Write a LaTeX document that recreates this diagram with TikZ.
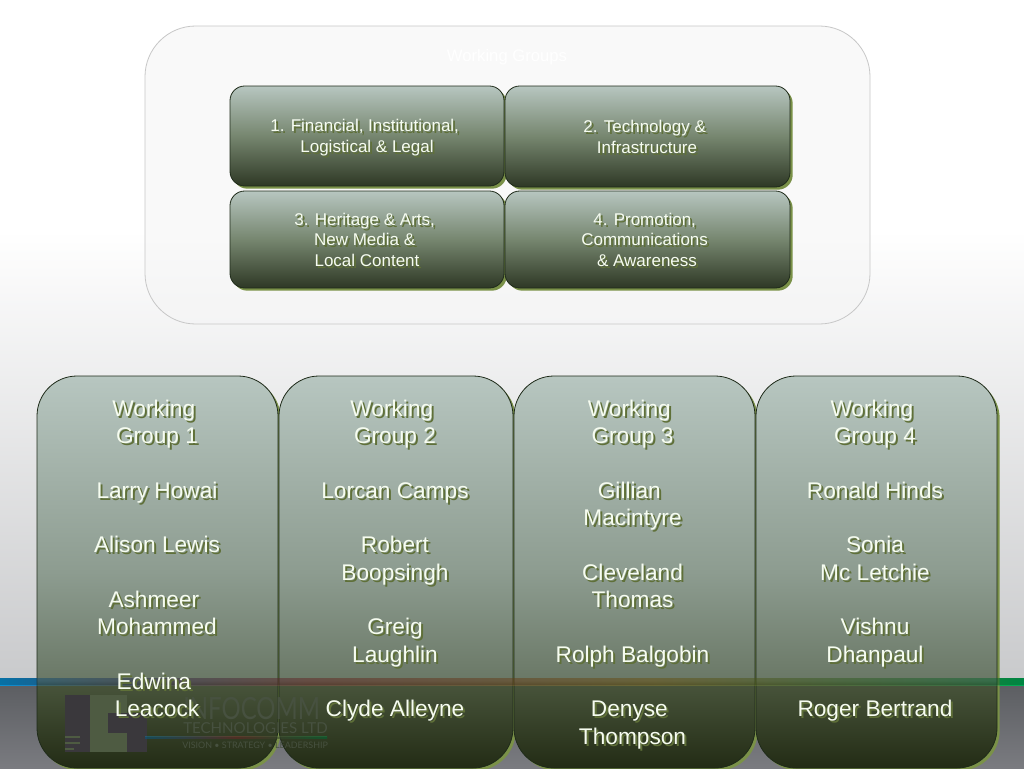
\documentclass[tikz,border=0pt]{standalone}
\usepackage{fontspec}
\setmainfont{Liberation Sans}
\newfontfamily\logofont{Lato}
\usetikzlibrary{shadows}

\definecolor{paneledge}{HTML}{1F2B1A}
\definecolor{panelback}{HTML}{7A9148}
\definecolor{textback}{HTML}{5F7038}
\definecolor{textfront}{HTML}{F6FCF0}
\definecolor{pagemid}{HTML}{C9CACC}
\definecolor{footertop}{HTML}{5C5E62}
\definecolor{footerbot}{HTML}{7A7B80}
\definecolor{logodark}{HTML}{3A383C}
\definecolor{logolight}{HTML}{4E5B42}
\definecolor{logotext}{HTML}{475140}
\definecolor{bandblue}{HTML}{0A90D2}
\definecolor{bandpurple}{HTML}{5A4A78}
\definecolor{bandred}{HTML}{A8403F}
\definecolor{bandamber}{HTML}{B08A20}
\definecolor{bandgreen}{HTML}{00AA55}
\definecolor{sa}{HTML}{B7C6C0}
\definecolor{sb}{HTML}{8D9C90}
\definecolor{sc}{HTML}{6A7866}
\definecolor{sd}{HTML}{47533A}
\definecolor{se}{HTML}{232C15}
\definecolor{ta}{HTML}{B7C6C0}
\definecolor{tb}{HTML}{76866F}
\definecolor{tc}{HTML}{2E3825}

\pgfdeclarehorizontalshading{bandshade}{100bp}{color(0bp)=(bandblue); color(25bp)=(bandblue); color(33bp)=(bandpurple); color(40bp)=(bandred); color(57bp)=(bandamber); color(75bp)=(bandgreen); color(100bp)=(bandgreen)}
\pgfdeclarehorizontalshading{logobandshade}{100bp}{color(0bp)=(bandblue); color(25bp)=(bandblue); color(50bp)=(bandred); color(75bp)=(bandgreen); color(100bp)=(bandgreen)}
\pgfdeclareverticalshading{wgshade}{100bp}{color(0bp)=(se); color(25bp)=(se); color(35.5bp)=(sd); color(36.2bp)=(sc); color(50bp)=(sb); color(75bp)=(sa); color(100bp)=(sa)}
\pgfdeclareverticalshading{topicshade}{100bp}{color(0bp)=(tc); color(25bp)=(tc); color(50bp)=(tb); color(75bp)=(ta); color(100bp)=(ta)}

\tikzset{
 panel/.style={draw=paneledge, line width=.6pt, inner sep=0pt, outer sep=0pt,
  general shadow={shadow xshift=2pt, shadow yshift=-2pt, fill=panelback, opacity=1}},
 wgpanel/.style={panel, shading=wgshade, rounded corners=30pt},
 topicpanel/.style={panel, shading=topicshade, rounded corners=11pt},
 wgtext/.style={align=center, anchor=north, inner sep=0pt, font=\fontsize{17}{20.5}\selectfont},
 topictext/.style={align=center, inner sep=0pt, font=\fontsize{12.75}{15.4}\selectfont},
 logoword/.style={anchor=west, inner sep=0pt, text=logotext},
}
% text with its olive copy behind it
\newcommand{\backedtext}[4]{
 \node [#2, text=textback] at ([xshift=1.5pt, yshift=-1.5pt]#3) {#4};
 \node (#1) [#2, text=textfront] at (#3) {#4};
}
\newcommand{\tsp}{\hbox{\ }}

\begin{document}
\begin{tikzpicture}[x=.75pt, y=-.75pt]
 \useasboundingbox (0,0) rectangle (1024,768);
 \clip (0,0) rectangle (1024,768);

 % page and footer
 \fill [white] (0,0) rectangle (1024,230);
 \fill [top color=white, bottom color=pagemid] (0,230) rectangle (1024,680);
 \fill [top color=footertop, bottom color=footerbot] (0,684) rectangle (1024,768);
 \fill [shading=bandshade] (0,678) rectangle (1024,685);

 % working groups box
 \node (groups) [draw=black!22, fill=black!4, fill opacity=.5, line width=.6pt, rounded corners=38pt, minimum width=543.75pt, minimum height=223.5pt, inner sep=0pt] at (507.5,175) {};
 \node (groupstitle) [text=white, font=\fontsize{12.5}{15}\selectfont] at (507,57) {Working Groups};

 \node (topicone) [topicpanel, minimum width=205.5pt, minimum height=75pt] at (367,136) {};
 \node (topictwo) [topicpanel, minimum width=213.75pt, minimum height=75.75pt] at (647.5,136.5) {};
 \node (topicthree) [topicpanel, minimum width=205.5pt, minimum height=72.75pt] at (367,239.5) {};
 \node (topicfour) [topicpanel, minimum width=213.75pt, minimum height=72.75pt] at (647.5,239.5) {};

 \backedtext{topiconetext}{topictext}{367,137.5}{1. Financial, Institutional,\tsp\\Logistical \& Legal}
 \backedtext{topictwotext}{topictext}{647,137}{2. Technology \&\tsp\\Infrastructure}
 \backedtext{topicthreetext}{topictext}{367,239.5}{3. Heritage \& Arts,\tsp\\New Media \&\tsp\\Local Content}
 \backedtext{topicfourtext}{topictext}{647,239.5}{4. Promotion,\tsp\\Communications\tsp\\\& Awareness}

 % the four groups
 \node (groupone) [wgpanel, minimum width=180.75pt, minimum height=294pt] at (157.5,572) {};
 \node (grouptwo) [wgpanel, minimum width=175.5pt, minimum height=294pt] at (396,572) {};
 \node (groupthree) [wgpanel, minimum width=180.75pt, minimum height=294pt] at (634.5,572) {};
 \node (groupfour) [wgpanel, minimum width=180.75pt, minimum height=294pt] at (876.5,572) {};

 % band and logo seen through the groups
 \fill [shading=bandshade, opacity=.3] (0,678) rectangle (1024,685);
 \fill [logodark] (65,695) rectangle (90,752);
 \fill [logodark] (108,713) rectangle (147,752);
 \fill [logolight] (90,695) rectangle (127,713);
 \fill [logolight] (90,713) rectangle (108,752);
 \fill [logolight] (108,733) rectangle (127,752);
 \fill [logolight] (65,736) rectangle (80,737.5);
 \fill [logolight] (65,742) rectangle (80,743.5);
 \fill [logolight] (65,748) rectangle (74,749.5);
 \fill [shading=logobandshade, opacity=.35] (145,736.5) rectangle (327,738.5);
 \node (logoname) [logoword, font=\logofont\fontsize{23}{24}\selectfont] at (183,709) {\scalebox{.78}[1]{INFOCOMM}};
 \node (logosub) [logoword, font=\logofont\fontsize{11.3}{12.5}\selectfont] at (183,728) {TECHNOLOGIES LTD};
 \node (logotag) [logoword, font=\logofont\fontsize{6.7}{7}\selectfont] at (182,745) {VISION • STRATEGY • LEADERSHIP};

 \backedtext{grouponetext}{wgtext}{157,399.5}{Working\tsp\\Group 1\\[20.5pt]Larry Howai\\[20.5pt]Alison Lewis\\[20.5pt]Ashmeer\tsp\\Mohammed\\[20.5pt]Edwina\tsp\\Leacock}
 \backedtext{grouptwotext}{wgtext}{395,399.5}{Working\tsp\\Group 2\\[20.5pt]Lorcan Camps\\[20.5pt]Robert\\Boopsingh\\[20.5pt]Greig\\Laughlin\\[20.5pt]Clyde Alleyne}
 \backedtext{groupthreetext}{wgtext}{632.5,399.5}{Working\tsp\\Group 3\\[20.5pt]Gillian\tsp\\Macintyre\\[20.5pt]Cleveland\\Thomas\\[20.5pt]Rolph Balgobin\\[20.5pt]Denyse\tsp\\Thompson}
 \backedtext{groupfourtext}{wgtext}{875,399.5}{Working\tsp\\Group 4\\[20.5pt]Ronald Hinds\\[20.5pt]Sonia\\Mc Letchie\\[20.5pt]Vishnu\\Dhanpaul\\[20.5pt]Roger Bertrand}
\end{tikzpicture}
\end{document}
